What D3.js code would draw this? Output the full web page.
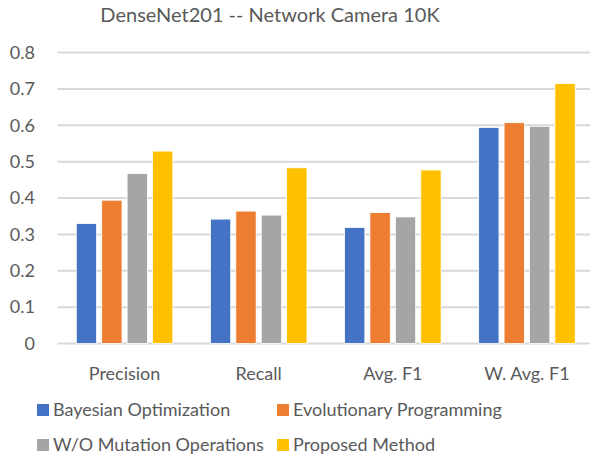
<!DOCTYPE html>
<html>
<head>
<meta charset="utf-8">
<script src="https://cdn.jsdelivr.net/npm/d3@7"></script>
<style>
  body { margin: 0; background: #fff; }
  text { font-family: Lato, "Open Sans", sans-serif; fill: #595959; }
</style>
</head>
<body>
<div id="chart"></div>
<script>
// data
var categories = ["Precision", "Recall", "Avg. F1", "W. Avg. F1"];
var seriesNames = ["Bayesian Optimization", "Evolutionary Programming",
                   "W/O Mutation Operations", "Proposed Method"];
var seriesColors = ["#4472C4", "#ED7D31", "#A5A5A5", "#FFC000"];
var bayesian   = [0.330, 0.342, 0.319, 0.594];
var evolution  = [0.394, 0.364, 0.360, 0.607];
var noMutation = [0.467, 0.353, 0.348, 0.597];
var proposed   = [0.529, 0.483, 0.477, 0.715];
var yTicks = [0, 0.1, 0.2, 0.3, 0.4, 0.5, 0.6, 0.7, 0.8];

var allSeries = [bayesian, evolution, noMutation, proposed];

var width = 590, height = 461;
var plot = { left: 57.5, right: 594, top: 52.5, bottom: 343.5 };

var svg = d3.select("#chart").append("svg")
    .attr("width", width)
    .attr("height", height);

var x0 = d3.scaleBand().domain(categories)
    .range([plot.left, plot.right]).paddingInner(0.28).paddingOuter(0.14);
var x1 = d3.scaleBand().domain(d3.range(seriesNames.length))
    .range([0, x0.bandwidth()]).paddingInner(0.2);
var y = d3.scaleLinear().domain([0, 0.8]).range([plot.bottom, plot.top]);

// title
svg.append("text")
    .attr("x", 270).attr("y", 22)
    .attr("text-anchor", "middle")
    .style("font-size", "20px")
    .text("DenseNet201 -- Network Camera 10K");

// gridlines
svg.append("g").selectAll("line")
    .data(yTicks)
    .enter().append("line")
    .attr("x1", plot.left).attr("x2", plot.right)
    .attr("y1", function(d) { return y(d); })
    .attr("y2", function(d) { return y(d); })
    .attr("stroke", "#D9D9D9")
    .attr("stroke-width", 2);

// y tick labels
svg.append("g").selectAll("text")
    .data(yTicks)
    .enter().append("text")
    .attr("x", 35)
    .attr("y", function(d) { return y(d); })
    .attr("dy", "0.35em")
    .attr("text-anchor", "end")
    .style("font-size", "18px")
    .text(function(d) { return d === 0 ? "0" : d3.format(".1f")(d); });

// bars
var groups = svg.append("g").selectAll("g")
    .data(categories)
    .enter().append("g")
    .attr("transform", function(d) { return "translate(" + x0(d) + ",0)"; });

groups.selectAll("rect")
    .data(function(d, i) {
        return allSeries.map(function(s, j) { return { k: j, v: s[i] }; });
    })
    .enter().append("rect")
    .attr("x", function(d) { return x1(d.k); })
    .attr("y", function(d) { return y(d.v); })
    .attr("width", x1.bandwidth())
    .attr("height", function(d) { return y(0) - y(d.v); })
    .attr("fill", function(d) { return seriesColors[d.k]; })
    .attr("stroke", "#fff")
    .attr("stroke-width", 0.8);

// category labels
svg.append("g").selectAll("text")
    .data(categories)
    .enter().append("text")
    .attr("x", function(d) { return x0(d) + x0.bandwidth() / 2; })
    .attr("y", 380)
    .attr("text-anchor", "middle")
    .style("font-size", "18px")
    .text(function(d) { return d; });

// legend
var legendPos = [[37, 410], [277, 410], [37, 445], [277, 445]];
var legend = svg.append("g").selectAll("g")
    .data(seriesNames)
    .enter().append("g")
    .attr("transform", function(d, i) {
        return "translate(" + legendPos[i][0] + "," + legendPos[i][1] + ")";
    });

legend.append("rect")
    .attr("x", 0).attr("y", -6)
    .attr("width", 12).attr("height", 12)
    .attr("fill", function(d, i) { return seriesColors[i]; });

legend.append("text")
    .attr("x", 16).attr("y", 0)
    .attr("dy", "0.35em")
    .style("font-size", "18px")
    .text(function(d) { return d; });
</script>
</body>
</html>
